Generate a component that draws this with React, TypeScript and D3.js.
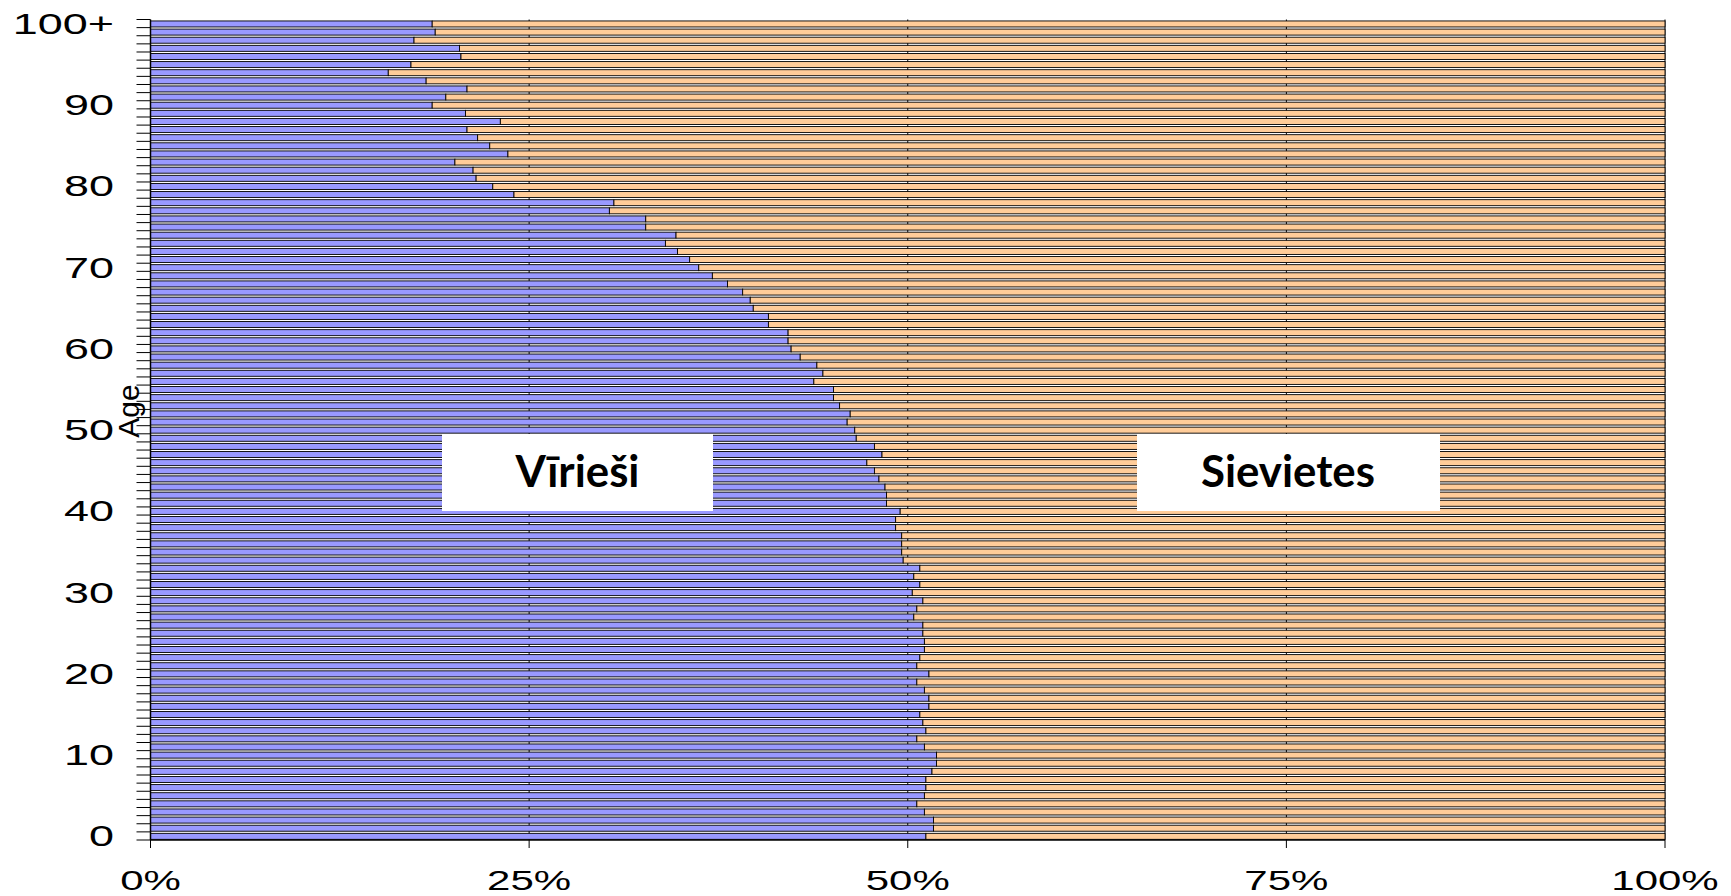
import React from "react";
import * as d3 from "d3";

// Ages 0..100 (100 = "100+")
const ages: number[] = d3.range(0, 101);

// Share of males (%) by age; females = 100 - male
const malePct: number[] = [
  51.2, 51.7, 51.7, 51.1, 50.6, 51.1, 51.2, 51.2, 51.6, 51.9,
  51.9, 51.1, 50.6, 51.2, 51.0, 50.8, 51.4, 51.4, 51.1, 50.6,
  51.4, 50.6, 50.8, 51.1, 51.1, 51.0, 51.0, 50.4, 50.6, 51.0,
  50.3, 50.8, 50.4, 50.8, 49.7, 49.6, 49.6, 49.6, 49.2, 49.2,
  49.5, 48.6, 48.6, 48.5, 48.1, 47.8, 47.3, 48.3, 47.8, 46.6,
  46.5, 46.0, 46.2, 45.5, 45.1, 45.1, 43.8, 44.4, 44.0, 42.9,
  42.3, 42.1, 42.1, 40.8, 40.8, 39.8, 39.6, 39.1, 38.1, 37.1,
  36.2, 35.6, 34.8, 34.0, 34.7, 32.7, 32.7, 30.3, 30.6, 24.0,
  22.6, 21.5, 21.3, 20.1, 23.6, 22.4, 21.6, 20.9, 23.1, 20.8,
  18.6, 19.5, 20.9, 18.2, 15.7, 17.2, 20.5, 20.4, 17.4, 18.8,
  18.6,
];

const yTickAges: number[] = [0, 10, 20, 30, 40, 50, 60, 70, 80, 90, 100];
const yTickLabels: string[] = ["0", "10", "20", "30", "40", "50", "60", "70", "80", "90", "100+"];
const xTicks: number[] = [0, 25, 50, 75, 100];
const xTickLabels: string[] = ["0%", "25%", "50%", "75%", "100%"];
const gridTicks: number[] = [25, 50, 75, 100];

const seriesNames: string[] = ["Vīrieši", "Sievietes"];
const axisTitle = "Age";

const W = 1731;
const H = 896;
const X0 = 150.5;
const X1 = 1665;
const Y0 = 840;
const Y1 = 19.5;

const MALE = "#9999FF";
const FEMALE = "#FFCC99";
const TICK_FONT = "'Liberation Sans', Arial, sans-serif";

export default function App() {
  const x = d3.scaleLinear().domain([0, 100]).range([X0, X1]);
  const y = d3.scaleBand<number>().domain(ages).range([Y0, Y1]).padding(0);
  const step = y.step();
  const barH = step * 0.74;
  const barOff = (step - barH) / 2 + 0.4;

  return (
    <svg
      width={W}
      height={H}
      style={{ position: "absolute", left: 0, top: 0, display: "block", background: "#fff" }}
    >
      {/* gridlines behind bars */}
      {gridTicks.map((t) => (
        <line key={"g" + t} x1={x(t)} x2={x(t)} y1={Y1} y2={Y0} stroke="#000" strokeWidth={1} />
      ))}
      {/* bars */}
      {ages.map((a, i) => {
        const yy = (y(a) as number) + barOff;
        const m = malePct[i];
        return (
          <g key={a}>
            <rect x={x(0)} y={yy} width={x(m) - x(0)} height={barH} fill={MALE} stroke="#000" strokeWidth={0.9} />
            <rect x={x(m)} y={yy} width={x(100) - x(m)} height={barH} fill={FEMALE} stroke="#000" strokeWidth={0.9} />
          </g>
        );
      })}
      {/* y axis */}
      <line x1={X0} x2={X0} y1={Y1} y2={Y0} stroke="#000" strokeWidth={1.5} />
      {d3.range(0, ages.length + 1).map((k) => {
        const yy = Y0 - k * step;
        return <line key={"yt" + k} x1={X0 - 14} x2={X0} y1={yy} y2={yy} stroke="#000" strokeWidth={1} />;
      })}
      {yTickAges.map((a, i) => {
        const yc = (y(a) as number) + step / 2;
        return (
          <g key={"yl" + a} transform={`translate(114,${yc}) scale(1.55,1)`}>
            <text x={0} y={0} dy="0.36em" textAnchor="end" fontFamily={TICK_FONT} fontSize={29} fill="#000">
              {yTickLabels[i]}
            </text>
          </g>
        );
      })}
      {/* x axis */}
      <line x1={X0} x2={X1} y1={Y0} y2={Y0} stroke="#000" strokeWidth={1.5} />
      {xTicks.map((t, i) => (
        <g key={"xt" + t}>
          <line x1={x(t)} x2={x(t)} y1={Y0} y2={Y0 + 8} stroke="#000" strokeWidth={1} />
          <g transform={`translate(${x(t)},890) scale(1.5,1)`}>
            <text x={0} y={0} textAnchor="middle" fontFamily={TICK_FONT} fontSize={28} fill="#000">
              {xTickLabels[i]}
            </text>
          </g>
        </g>
      ))}
      {/* axis title */}
      <text
        transform={`translate(128,411) rotate(-90)`}
        textAnchor="middle"
        dy="0.35em"
        fontFamily={TICK_FONT}
        fontSize={30}
        fill="#000"
      >
        {axisTitle}
      </text>
      {/* series text boxes */}
      <rect x={442} y={434} width={271} height={77} fill="#fff" />
      <text x={577.5} y={487} textAnchor="middle" fontFamily="Lato, 'Open Sans', sans-serif" fontWeight={700} fontSize={43} textLength={124} lengthAdjust="spacingAndGlyphs" fill="#000">
        {seriesNames[0]}
      </text>
      <rect x={1137} y={434} width={303} height={77} fill="#fff" />
      <text x={1288} y={487} textAnchor="middle" fontFamily="Lato, 'Open Sans', sans-serif" fontWeight={700} fontSize={43} textLength={174} lengthAdjust="spacingAndGlyphs" fill="#000">
        {seriesNames[1]}
      </text>
    </svg>
  );
}
